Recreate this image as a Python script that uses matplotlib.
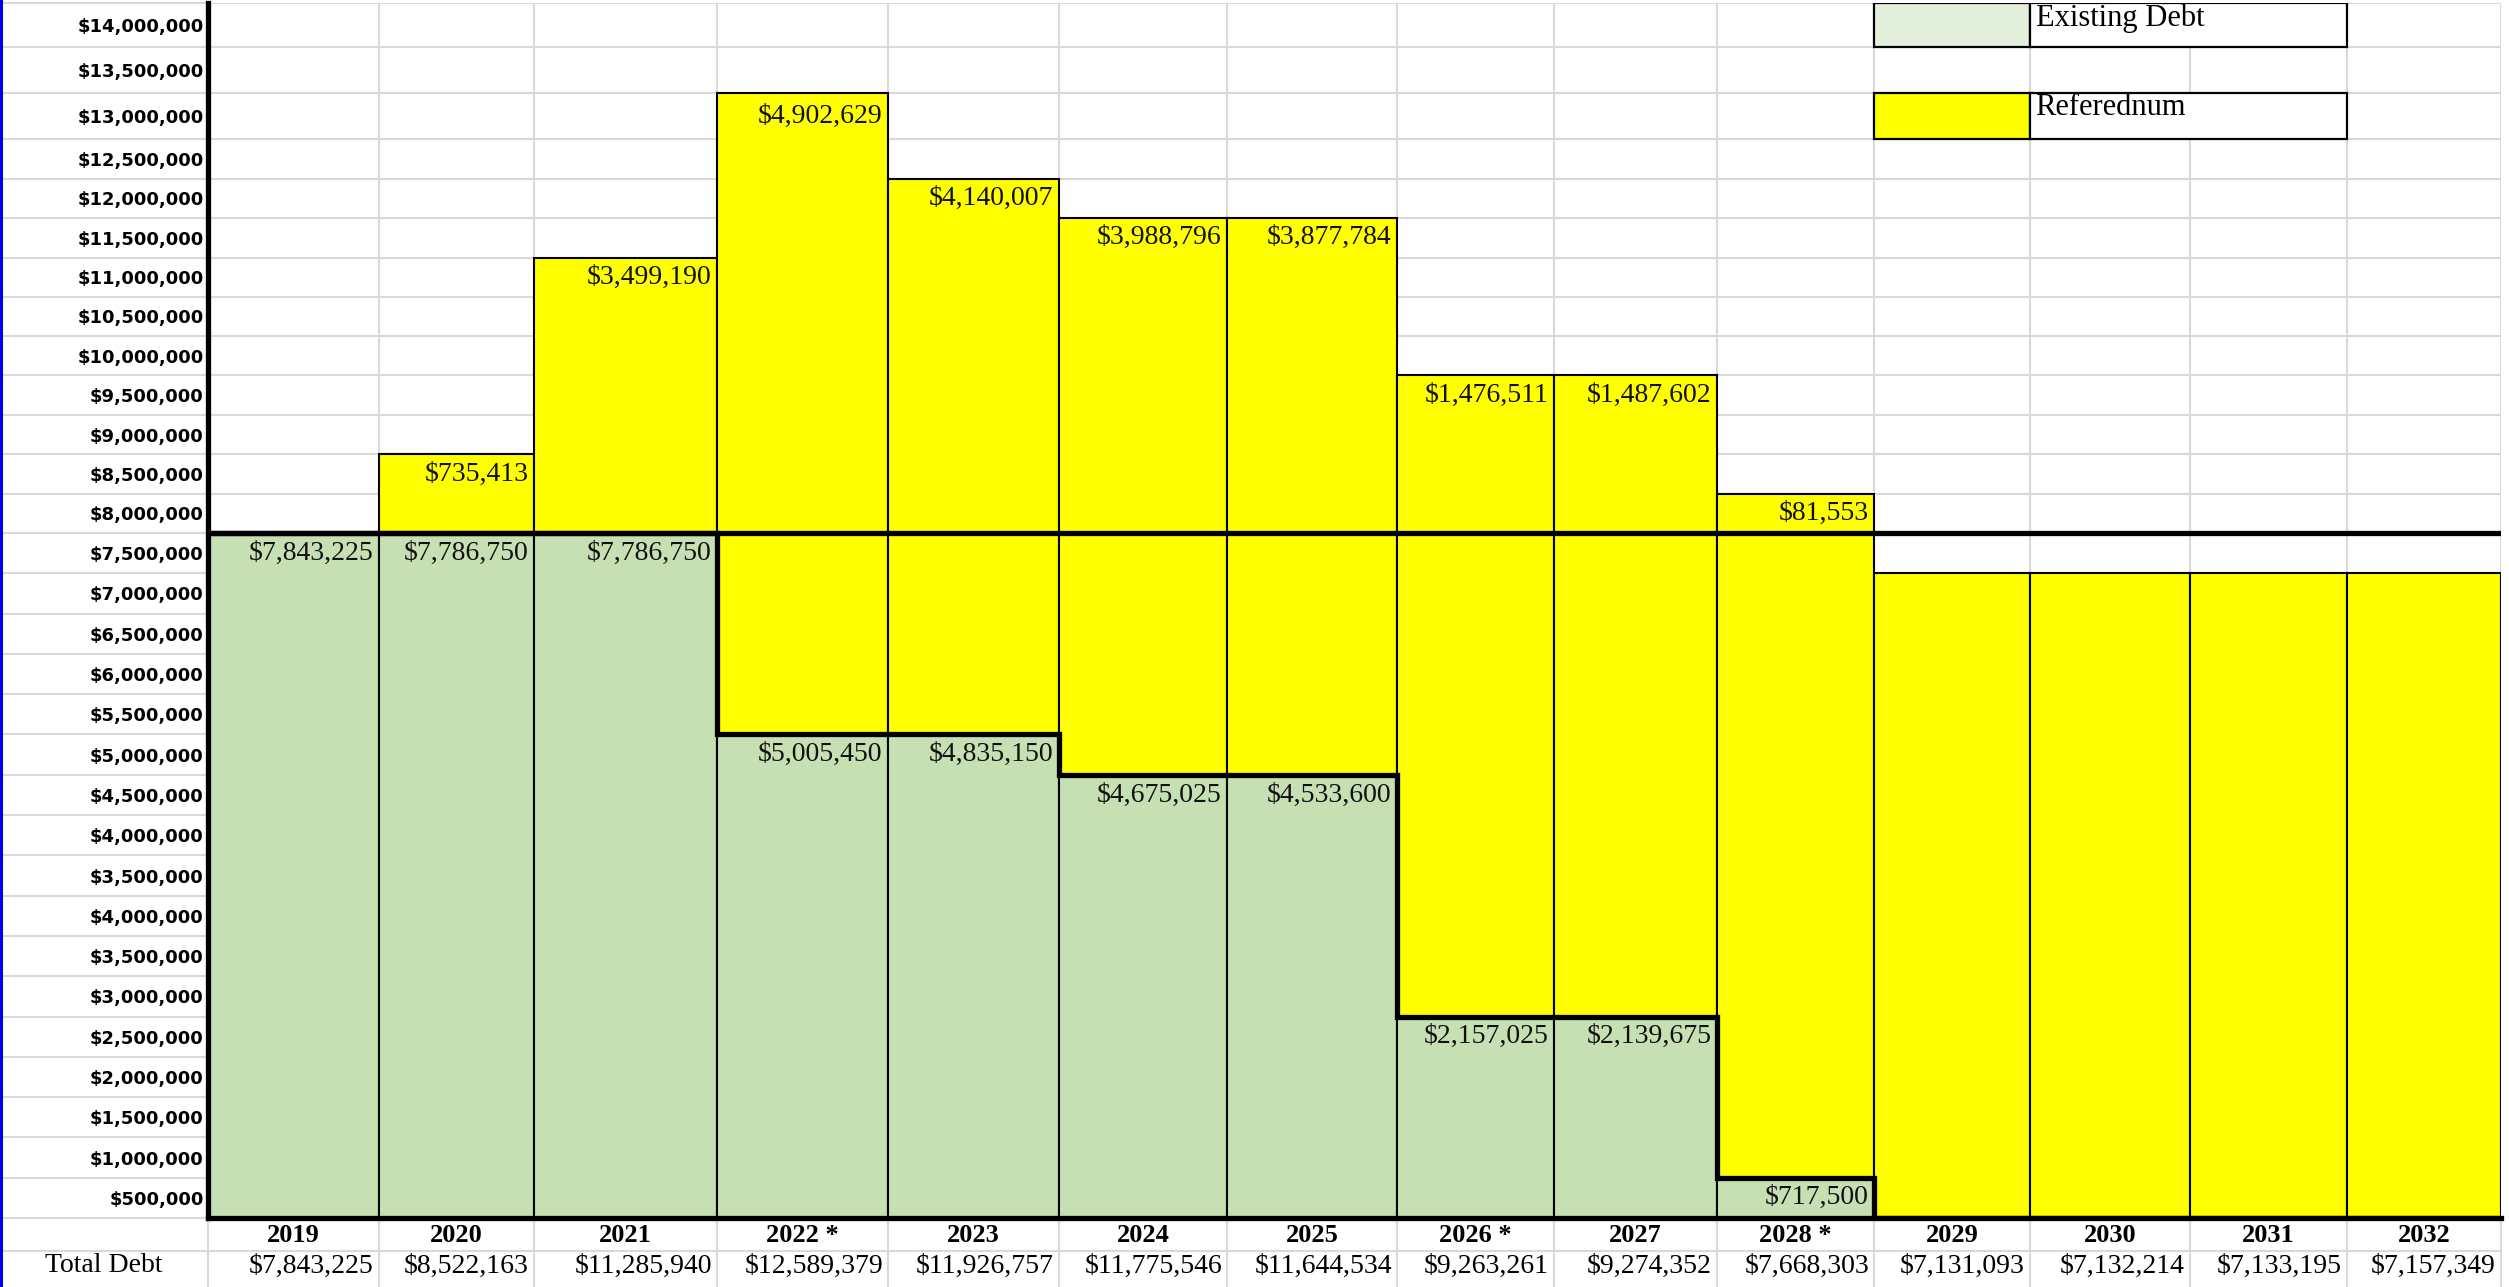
import numpy as np
import matplotlib
matplotlib.use("Agg")
import matplotlib.pyplot as plt
from matplotlib.patches import Rectangle
from matplotlib.lines import Line2D

# ---------------- data ----------------
years = ["2019", "2020", "2021", "2022 *", "2023", "2024", "2025",
         "2026 *", "2027", "2028 *", "2029", "2030", "2031", "2032"]
existing_debt = [7843225, 7786750, 7786750, 5005450, 4835150, 4675025, 4533600,
                 2157025, 2139675, 717500, None, None, None, None]
referendum = [None, 735413, 3499190, 4902629, 4140007, 3988796, 3877784,
              1476511, 1487602, 81553, None, None, None, None]
total_debt = [7843225, 8522163, 11285940, 12589379, 11926757, 11775546, 11644534,
              9263261, 9274352, 7668303, 7131093, 7132214, 7133195, 7157349]
# filled spreadsheet rows (each row one label band), counted from the bottom
existing_rows = np.array([17, 17, 17, 12, 12, 11, 11, 5, 5, 1, 0, 0, 0, 0])
total_rows = np.array([17, 19, 24, 28, 26, 25, 25, 21, 21, 18, 16, 16, 16, 16])
threshold_row = 17
# row labels from bottom to top (as printed in the sheet)
row_labels = ["$500,000", "$1,000,000", "$1,500,000", "$2,000,000", "$2,500,000",
              "$3,000,000", "$3,500,000", "$4,000,000", "$3,500,000", "$4,000,000",
              "$4,500,000", "$5,000,000", "$5,500,000", "$6,000,000", "$6,500,000",
              "$7,000,000", "$7,500,000", "$8,000,000", "$8,500,000", "$9,000,000",
              "$9,500,000", "$10,000,000", "$10,500,000", "$11,000,000", "$11,500,000",
              "$12,000,000", "$12,500,000", "$13,000,000", "$13,500,000", "$14,000,000"]
legend_labels = ["Existing Debt", "Referednum"]
legend_rows = [29, 27]

# ---------------- layout ----------------
W, H = 2509, 1287
ax_left, ax_right, ax_top, ax_bottom = 208, 2501, 3.3, 1218
col_widths = np.array([171, 155, 183, 171, 171, 168, 170, 157, 163, 157, 156, 160, 157, 154], float)
row_heights = np.array([40.3] * 17 + [39.4] * 6 + [39.0, 39.7, 39.0, 39.7, 46.6, 46.0, 43.4])

GREEN = "#C6E0B4"
LEGEND_GREEN = "#E2EFDA"
YELLOW = "#FFFF00"
GRID = "#D9D9D9"
SERIF = "Liberation Serif"
VAL_FS = 20

edges = np.concatenate([[0], np.cumsum(col_widths)])
centers = (edges[:-1] + edges[1:]) / 2
row_idx = np.arange(len(row_heights) + 1)
row_cum = np.concatenate([[0], np.cumsum(row_heights)])

fig = plt.figure(figsize=(W / 100, H / 100), dpi=100)
ax_w = ax_right - ax_left
ax_h = ax_bottom - ax_top
ax = fig.add_axes([ax_left / W, 1 - ax_bottom / H, ax_w / W, ax_h / H])

ax.set_yscale("function", functions=(lambda y: np.interp(y, row_idx, row_cum),
                                     lambda p: np.interp(p, row_cum, row_idx)))
ax.set_xlim(0, edges[-1])
ax.set_ylim(0, len(row_heights))

# spreadsheet grid
nrows = len(row_heights)
ax.hlines(np.arange(nrows + 1), 0, edges[-1], colors=GRID, lw=1.5, zorder=0.5)
ax.vlines(edges, 0, nrows, colors=GRID, lw=1.5, zorder=0.5)
ax.hlines(np.arange(nrows + 1), -ax_left / ax_w, 0, colors=GRID, lw=1.5,
          transform=ax.get_yaxis_transform(), clip_on=False, zorder=0.5)
bottom_area = (H - ax_bottom) / ax_h
ax.vlines(edges, -bottom_area, 0, colors=GRID, lw=1.5,
          transform=ax.get_xaxis_transform(), clip_on=False, zorder=0.5)
ax.hlines(-33 / ax_h, -ax_left / ax_w, 1, colors=GRID, lw=1.5,
          transform=ax.transAxes, clip_on=False, zorder=0.5)

# bars
m = existing_rows > 0
ax.bar(edges[:-1][m], existing_rows[m], width=col_widths[m], align="edge",
       color=GREEN, edgecolor="black", linewidth=1.5, zorder=2)
m2 = total_rows > existing_rows
ax.bar(edges[:-1][m2], (total_rows - existing_rows)[m2], bottom=existing_rows[m2],
       width=col_widths[m2], align="edge", color=YELLOW, edgecolor="black",
       linewidth=1.5, zorder=2)

# thick lines
ax.axhline(threshold_row, color="black", lw=3.8, zorder=4)
ax.stairs(existing_rows, edges, baseline=None, color="black", lw=3.8, zorder=4)

for s in ["top", "right"]:
    ax.spines[s].set_visible(False)
for s in ["left", "bottom"]:
    ax.spines[s].set_linewidth(3.8)
    ax.spines[s].set_zorder(4)

# value labels
for i in range(len(years)):
    if existing_debt[i] is not None:
        ax.annotate(f"${existing_debt[i]:,}", xy=(edges[i + 1], existing_rows[i] - 0.5),
                    xytext=(-4, 0), textcoords="offset points", ha="right", va="center",
                    fontfamily=SERIF, fontsize=VAL_FS, color="#111111", zorder=5)
    if referendum[i] is not None:
        ax.annotate(f"${referendum[i]:,}", xy=(edges[i + 1], total_rows[i] - 0.5),
                    xytext=(-4, 0), textcoords="offset points", ha="right", va="center",
                    fontfamily=SERIF, fontsize=VAL_FS, color="#111111", zorder=5)

# axes labels
ax.set_yticks(np.arange(nrows) + 0.5, labels=row_labels)
ax.tick_params(axis="y", length=0, pad=3)
for t in ax.get_yticklabels():
    t.set_fontfamily("DejaVu Sans")
    t.set_fontweight("bold")
    t.set_fontsize(13)
ax.set_yticks([], minor=True)

ax.set_xticks(centers, labels=years)
ax.tick_params(axis="x", length=0, pad=4)
for t in ax.get_xticklabels():
    t.set_fontfamily(SERIF)
    t.set_fontweight("bold")
    t.set_fontsize(19)

total_y = -(1266 - ax_bottom) / ax_h
trans = ax.get_xaxis_transform()
for i, v in enumerate(total_debt):
    ax.text(edges[i + 1] - 5, total_y, f"${v:,}", ha="right", va="center",
            fontfamily=SERIF, fontsize=VAL_FS, transform=trans, clip_on=False)
ax.text(-(ax_left / 2) / ax_w, total_y, "Total Debt", ha="center", va="center",
        fontfamily=SERIF, fontsize=VAL_FS, transform=ax.transAxes, clip_on=False)

# legend cells
legend_colors = [LEGEND_GREEN, YELLOW]
for lab, r, c in zip(legend_labels, legend_rows, legend_colors):
    ax.add_patch(Rectangle((edges[10], r), col_widths[10], 1, facecolor=c,
                           edgecolor="black", lw=1.6, zorder=3))
    ax.add_patch(Rectangle((edges[11], r), edges[13] - edges[11], 1, facecolor="white",
                           edgecolor="black", lw=1.6, zorder=3))
    ax.annotate(lab, xy=(edges[11], r + 1), xytext=(4, 0), textcoords="offset points",
                ha="left", va="top", fontfamily=SERIF, fontsize=22, zorder=5)

fig.add_artist(Line2D([1.5 / W, 1.5 / W], [0, 1], transform=fig.transFigure,
                      color="#0000E6", lw=2.2))

fig.savefig("out.png", dpi=100)
